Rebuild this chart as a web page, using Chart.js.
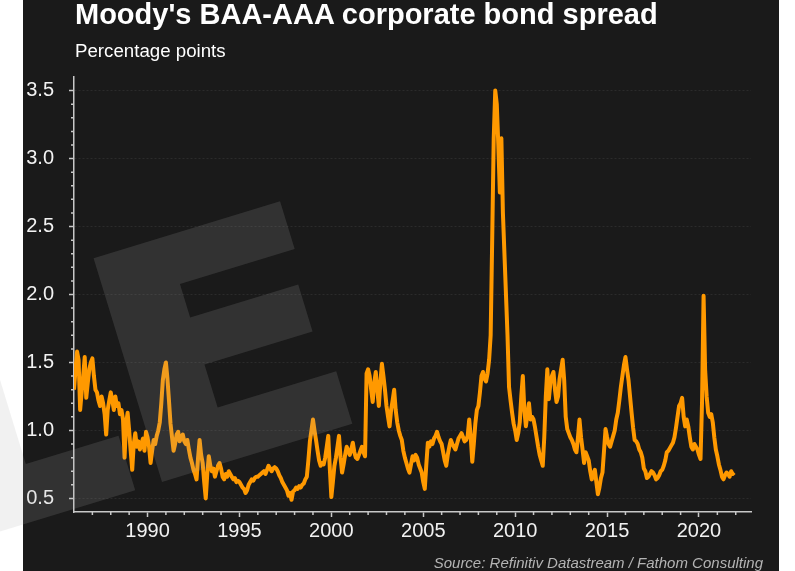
<!DOCTYPE html>
<html>
<head>
<meta charset="utf-8">
<title>Moody's BAA-AAA corporate bond spread</title>
<script src="https://cdn.jsdelivr.net/npm/chart.js@4.4.1/dist/chart.umd.min.js"></script>
<style>
    body { margin: 0; background: #fff; }
    #wrap { position: relative; width: 795px; height: 571px; overflow: hidden; }
    #wrap canvas { position: absolute; left: 0; top: 0; }
    .txt {
        position: absolute;
        font-family: "Liberation Sans", Arial, sans-serif;
        color: #fff;
        line-height: 1;
        white-space: nowrap;
    }
    #title { left: 75px; top: 0px; font-size: 29px; font-weight: bold; }
    #subtitle { left: 75px; top: 42px; font-size: 18.7px; }
    #source { right: 32px; top: 555px; font-size: 15px; font-style: italic; color: #b4b4b4; }
</style>
</head>
<body>
<div id="wrap">
    <canvas id="spread-chart" width="795" height="571"></canvas>
    <div class="txt" id="title">Moody's BAA-AAA corporate bond spread</div>
    <div class="txt" id="subtitle">Percentage points</div>
    <div class="txt" id="source">Source: Refinitiv Datastream / Fathom Consulting</div>
</div>
<script>
// monthly values, first one is January 1986
var startYear = 1986;

var spread1986_1993 = [
    1.30, 1.45, 1.58, 1.52, 1.15, 1.28, 1.40, 1.54, 1.24, 1.35, 1.45, 1.50,
    1.53, 1.40, 1.30, 1.28, 1.22, 1.18, 1.25, 1.20, 1.12, 0.97, 1.15, 1.22,
    1.28, 1.22, 1.15, 1.25, 1.18, 1.20, 1.12, 1.15, 1.08, 0.80, 1.05, 1.13,
    1.00, 0.85, 0.71, 0.90, 0.98, 0.88, 0.92, 0.86, 0.90, 0.94, 0.85, 0.99,
    0.95, 0.88, 0.76, 0.85, 0.93, 0.90, 0.96, 1.00, 1.06, 1.20, 1.37, 1.45,
    1.50, 1.38, 1.22, 1.05, 0.95, 0.85, 0.90, 0.97, 0.99, 0.92, 0.95, 0.97,
    0.92, 0.90, 0.93, 0.86, 0.80, 0.76, 0.71, 0.68, 0.64, 0.80, 0.93, 0.82,
    0.76, 0.62, 0.50, 0.68, 0.81, 0.74, 0.70, 0.72, 0.66, 0.70, 0.74, 0.76
];
var spread1994_2001 = [
    0.72, 0.66, 0.64, 0.68, 0.66, 0.70, 0.68, 0.66, 0.64, 0.65, 0.62, 0.63,
    0.62, 0.60, 0.58, 0.57, 0.54, 0.56, 0.60, 0.62, 0.64, 0.63, 0.65, 0.66,
    0.66, 0.67, 0.68, 0.69, 0.70, 0.68, 0.71, 0.74, 0.72, 0.70, 0.72, 0.73,
    0.72, 0.70, 0.67, 0.65, 0.62, 0.60, 0.58, 0.56, 0.52, 0.54, 0.49, 0.55,
    0.56, 0.58, 0.57, 0.59, 0.58, 0.60, 0.61, 0.64, 0.66, 0.78, 0.92, 1.00,
    1.08, 1.00, 0.93, 0.85, 0.78, 0.74, 0.76, 0.75, 0.80, 0.88, 0.96, 0.72,
    0.51, 0.62, 0.74, 0.80, 0.88, 0.96, 0.80, 0.69, 0.75, 0.82, 0.88, 0.85,
    0.82, 0.86, 0.91, 0.84, 0.80, 0.79, 0.82, 0.85, 0.88, 0.84, 0.81, 1.42
];
var spread2002_2009 = [
    1.45, 1.40, 1.30, 1.21, 1.35, 1.43, 1.30, 1.18, 1.35, 1.49, 1.40, 1.30,
    1.18, 1.10, 1.03, 1.15, 1.22, 1.30, 1.15, 1.06, 1.00, 0.96, 0.93, 0.85,
    0.80, 0.76, 0.72, 0.69, 0.75, 0.81, 0.78, 0.82, 0.80, 0.75, 0.72, 0.69,
    0.62, 0.57, 0.75, 0.91, 0.88, 0.92, 0.90, 0.94, 0.96, 0.99, 0.95, 0.92,
    0.90, 0.84, 0.78, 0.74, 0.82, 0.88, 0.93, 0.90, 0.88, 0.86, 0.90, 0.94,
    0.96, 0.98, 0.95, 0.92, 0.93, 0.96, 1.08, 0.95, 0.77, 0.90, 1.05, 1.15,
    1.18, 1.28, 1.40, 1.43, 1.38, 1.36, 1.42, 1.52, 1.70, 2.40, 3.15, 3.50,
    3.40, 3.10, 2.75, 3.15, 2.60, 2.30, 2.00, 1.70, 1.32, 1.22, 1.13, 1.05
];
var spread2010_2015 = [
    1.00, 0.93, 0.98, 1.06, 1.25, 1.40, 1.15, 1.03, 1.12, 1.20, 1.08, 1.10,
    1.08, 1.02, 0.95, 0.88, 0.82, 0.78, 0.74, 0.95, 1.25, 1.45, 1.23, 1.35,
    1.40, 1.43, 1.30, 1.21, 1.25, 1.38, 1.45, 1.52, 1.37, 1.10, 1.01, 0.98,
    0.95, 0.93, 0.90, 0.86, 0.84, 0.95, 1.08, 0.95, 0.86, 0.76, 0.84, 0.81,
    0.78, 0.70, 0.64, 0.68, 0.71, 0.62, 0.53, 0.58, 0.65, 0.69, 0.85, 1.01,
    0.95, 0.90, 0.88, 0.92, 0.96, 1.00, 1.08, 1.13, 1.22, 1.32, 1.40, 1.48
];
var spread2016_2021 = [
    1.54, 1.45, 1.37, 1.25, 1.13, 1.02, 0.93, 0.92, 0.90, 0.86, 0.84, 0.80,
    0.72, 0.70, 0.65, 0.66, 0.68, 0.70, 0.69, 0.67, 0.64, 0.65, 0.67, 0.70,
    0.71, 0.74, 0.78, 0.84, 0.85, 0.87, 0.89, 0.91, 0.95, 1.02, 1.10, 1.18,
    1.20, 1.24, 1.10, 1.03, 1.08, 1.03, 0.95, 0.88, 0.86, 0.90, 0.88, 0.86,
    0.82, 0.79, 1.21, 1.99, 1.45, 1.25, 1.13, 1.10, 1.12, 1.06, 0.95, 0.86,
    0.81, 0.75, 0.71, 0.66, 0.64, 0.67, 0.69, 0.68, 0.66, 0.70, 0.68, 0.69
];

var yearTicks = [1990, 1995, 2000, 2005, 2010, 2015, 2020];
var valueTicks = [0.5, 1.0, 1.5, 2.0, 2.5, 3.0, 3.5];

var allValues = spread1986_1993.concat(spread1994_2001, spread2002_2009, spread2010_2015, spread2016_2021);
var points = allValues.map(function(v, i) {
    return { x: startYear + i / 12, y: v };
});

var axisColor = "#c8c8c8";
var font = "'Liberation Sans', Arial, sans-serif";

// dark panel behind the chart
var panelPlugin = {
    id: "panel",
    beforeDraw: function(chart) {
        var ctx = chart.ctx;
        ctx.save();
        ctx.fillStyle = "#1a1a1a";
        ctx.fillRect(23, 0, 756, chart.height);
        ctx.restore();
    }
};

// faint "LE" logo over the plot
var watermarkPlugin = {
    id: "watermark",
    afterDatasetsDraw: function(chart) {
        var ctx = chart.ctx;
        ctx.save();
        ctx.translate(162, 482);
        ctx.rotate(-17 * Math.PI / 180);
        ctx.fillStyle = "rgba(170, 170, 170, 0.17)";
        ctx.beginPath();
        ctx.moveTo(0, 0);
        ctx.lineTo(199, 0);
        ctx.lineTo(199, -55);
        ctx.lineTo(75, -55);
        ctx.lineTo(75, -100);
        ctx.lineTo(188, -100);
        ctx.lineTo(188, -149);
        ctx.lineTo(75, -149);
        ctx.lineTo(75, -184);
        ctx.lineTo(195, -184);
        ctx.lineTo(195, -234);
        ctx.lineTo(0, -234);
        ctx.closePath();
        ctx.moveTo(-28, 0);
        ctx.lineTo(-28, -57);
        ctx.lineTo(-125, -57);
        ctx.lineTo(-125, -400);
        ctx.lineTo(-200, -400);
        ctx.lineTo(-200, 0);
        ctx.closePath();
        ctx.fill();
        ctx.restore();
    }
};

// short minor ticks: every year on x, every 0.1 on y
var minorTickPlugin = {
    id: "minorTicks",
    afterDraw: function(chart) {
        var ctx = chart.ctx;
        var xs = chart.scales.x;
        var ys = chart.scales.y;
        var area = chart.chartArea;
        ctx.save();
        ctx.strokeStyle = axisColor;
        ctx.lineWidth = 1.5;
        ctx.beginPath();
        for (var yr = 1987; yr <= 2022; yr++) {
            if (yearTicks.indexOf(yr) >= 0) continue;
            var px = xs.getPixelForValue(yr);
            ctx.moveTo(px, area.bottom);
            ctx.lineTo(px, area.bottom + 3);
        }
        for (var k = 5; k <= 35; k++) {
            if (k % 5 === 0) continue;
            var py = ys.getPixelForValue(k / 10);
            ctx.moveTo(area.left, py);
            ctx.lineTo(area.left - 3, py);
        }
        ctx.stroke();
        ctx.restore();
    }
};

var ctx = document.getElementById("spread-chart").getContext("2d");
var spreadChart = new Chart(ctx, {
    type: "line",
    data: {
        datasets: [
            {
                label: "BAA-AAA spread",
                data: points,
                borderColor: "#ff9900",
                borderWidth: 4,
                borderJoinStyle: "round",
                pointRadius: 0,
                tension: 0,
                fill: false
            }
        ]
    },
    options: {
        responsive: false,
        animation: false,
        devicePixelRatio: 1,
        layout: {
            padding: { left: 23, right: 44, top: 77, bottom: 19 }
        },
        plugins: {
            legend: { display: false },
            tooltip: { enabled: false }
        },
        scales: {
            x: {
                type: "linear",
                min: 1986,
                max: 2022.83,
                afterBuildTicks: function(scale) {
                    scale.ticks = yearTicks.map(function(v) { return { value: v }; });
                },
                afterFit: function(scale) {
                    scale.height = 40;
                },
                grid: {
                    drawOnChartArea: false,
                    drawTicks: true,
                    tickLength: 5,
                    tickColor: axisColor,
                    tickWidth: 1.5
                },
                border: { display: true, color: axisColor, width: 1.5 },
                ticks: {
                    color: "#f2f2f2",
                    padding: 2,
                    maxRotation: 0,
                    font: { family: font, size: 20 },
                    callback: function(v) { return String(v); }
                }
            },
            y: {
                type: "linear",
                min: 0.4,
                max: 3.6,
                afterBuildTicks: function(scale) {
                    scale.ticks = valueTicks.map(function(v) { return { value: v }; });
                },
                afterFit: function(scale) {
                    scale.width = 51;
                },
                grid: {
                    color: "rgba(255, 255, 255, 0.08)",
                    lineWidth: 1,
                    drawTicks: true,
                    tickLength: 5,
                    tickColor: axisColor,
                    tickWidth: 1.5
                },
                border: { display: true, color: axisColor, width: 1.5, dash: [2, 2] },
                ticks: {
                    color: "#f2f2f2",
                    padding: 15,
                    font: { family: font, size: 20 },
                    callback: function(v) { return v.toFixed(1); }
                }
            }
        }
    },
    plugins: [panelPlugin, watermarkPlugin, minorTickPlugin]
});
</script>
</body>
</html>
